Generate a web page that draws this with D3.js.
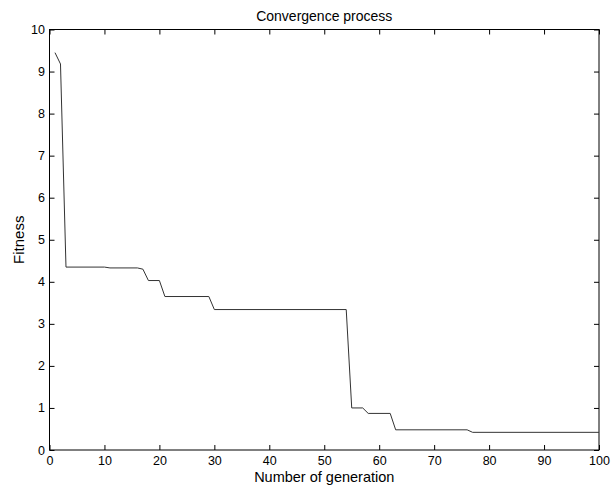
<!DOCTYPE html>
<html>
<head>
<meta charset="utf-8">
<script src="https://cdn.jsdelivr.net/npm/d3@7"></script>
<style>
    body { margin: 0; background: #fff; }
    svg { display: block; font-family: "Liberation Sans", Arial, sans-serif; }
</style>
</head>
<body>
<svg id="chart" width="615" height="486"></svg>
<script>
// generation numbers where the best fitness changes (line is drawn through these)
const generations = [1, 2, 3, 10, 11, 16, 17, 18, 20, 21, 29, 30, 54, 55, 57, 58, 62, 63, 76, 77, 100]
const fitness     = [9.45, 9.18, 4.35, 4.35, 4.33, 4.33, 4.30, 4.03, 4.03, 3.65, 3.65, 3.34, 3.34, 1.00, 1.00, 0.87, 0.87, 0.48, 0.48, 0.42, 0.42]
const xTicks = [0, 10, 20, 30, 40, 50, 60, 70, 80, 90, 100]
const yTicks = [0, 1, 2, 3, 4, 5, 6, 7, 8, 9, 10]

const margin = { top: 29.5, right: 16, bottom: 36, left: 49.5 }
const width = 615
const height = 486

const svg = d3.select('#chart')

const x = d3.scaleLinear()
    .domain([0, 100])
    .range([margin.left, width - margin.right])

const y = d3.scaleLinear()
    .domain([0, 10])
    .range([height - margin.bottom, margin.top])

const tickLen = 5
const axisColor = '#000'

// box
svg.append('rect')
    .attr('x', x(0))
    .attr('y', y(10))
    .attr('width', x(100) - x(0))
    .attr('height', y(0) - y(10))
    .attr('fill', 'none')
    .attr('stroke', axisColor)
    .attr('stroke-width', 1)

// inward ticks, matlab style
const bottomAxis = d3.axisBottom(x).tickValues(xTicks).tickSize(-tickLen).tickPadding(6)
const topAxis = d3.axisTop(x).tickValues(xTicks).tickSize(-tickLen).tickFormat('')
const leftAxis = d3.axisLeft(y).tickValues(yTicks).tickSize(-tickLen).tickPadding(4.5)
const rightAxis = d3.axisRight(y).tickValues(yTicks).tickSize(-tickLen).tickFormat('')

function styleAxis(g) {
    g.select('.domain').remove()
    g.selectAll('.tick line').attr('stroke', axisColor)
    g.selectAll('.tick text')
        .attr('fill', '#000')
        .style('font-size', '12.5px')
        .style('font-family', '"Liberation Sans", Arial, sans-serif')
}

svg.append('g').attr('transform', `translate(0,${y(0)})`).call(bottomAxis).call(styleAxis)
svg.append('g').attr('transform', `translate(0,${y(10)})`).call(topAxis).call(styleAxis)
svg.append('g').attr('transform', `translate(${x(0)},0)`).call(leftAxis).call(styleAxis)
svg.append('g').attr('transform', `translate(${x(100)},0)`).call(rightAxis).call(styleAxis)

// data line
const line = d3.line()
    .x((d, i) => x(generations[i]))
    .y((d) => y(d))

svg.append('path')
    .datum(fitness)
    .attr('d', line)
    .attr('fill', 'none')
    .attr('stroke', '#333')
    .attr('stroke-width', 1)

// labels
svg.append('text')
    .attr('x', (x(0) + x(100)) / 2)
    .attr('y', 20.5)
    .attr('text-anchor', 'middle')
    .style('font-size', '14px')
    .text('Convergence process')

svg.append('text')
    .attr('x', (x(0) + x(100)) / 2)
    .attr('y', 481.5)
    .attr('text-anchor', 'middle')
    .style('font-size', '14.5px')
    .text('Number of generation')

svg.append('text')
    .attr('transform', `translate(24,${(y(0) + y(10)) / 2}) rotate(-90)`)
    .attr('text-anchor', 'middle')
    .style('font-size', '15px')
    .text('Fitness')
</script>
</body>
</html>
